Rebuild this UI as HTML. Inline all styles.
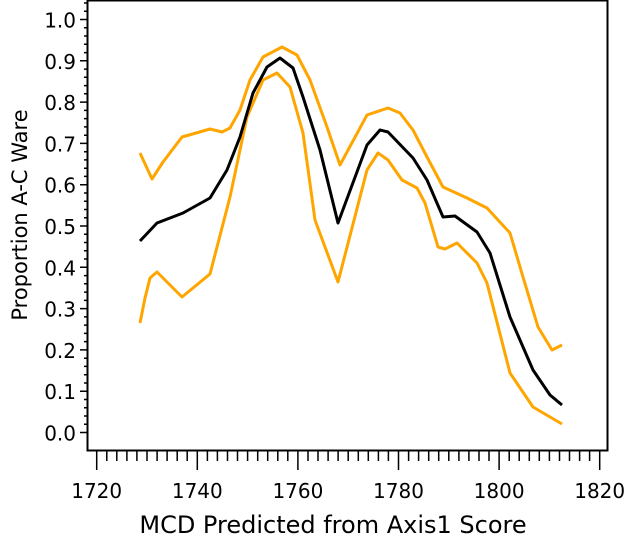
<!DOCTYPE html>
<html><head><style>
html,body{margin:0;padding:0;background:#fff;}
svg{display:block;}
text{font-family:"DejaVu Sans","Liberation Sans",sans-serif;font-size:20px;fill:#000;}
</style></head><body>
<svg width="633" height="549" xmlns="http://www.w3.org/2000/svg">
<rect x="87.5" y="0.5" width="520" height="450" fill="none" stroke="#000" stroke-width="2"/>
<g stroke="#000" stroke-width="1.5">
<path d="M80 432.5H87M80 391.2H87M80 349.9H87M80 308.6H87M80 267.3H87M80 226H87M80 184.7H87M80 143.4H87M80 102.1H87M80 60.8H87M80 19.5H87"/>
<path d="M84 424.2H87M84 416H87M84 407.7H87M84 399.5H87M84 383H87M84 374.7H87M84 366.4H87M84 358.2H87M84 341.6H87M84 333.4H87M84 325.1H87M84 316.9H87M84 300.4H87M84 292.1H87M84 283.8H87M84 275.6H87M84 259H87M84 250.8H87M84 242.5H87M84 234.3H87M84 217.7H87M84 209.5H87M84 201.2H87M84 193H87M84 176.4H87M84 168.2H87M84 159.9H87M84 151.7H87M84 135.2H87M84 126.9H87M84 118.6H87M84 110.4H87M84 93.8H87M84 85.6H87M84 77.3H87M84 69.1H87M84 52.6H87M84 44.3H87M84 36H87M84 27.8H87M84 11.2H87M84 3H87"/>
</g>
<g text-anchor="end" style="font-size:23px">
<text x="76" y="440.5">0.0</text><text x="76" y="399.2">0.1</text><text x="76" y="357.9">0.2</text><text x="76" y="316.6">0.3</text><text x="76" y="275.3">0.4</text><text x="76" y="234">0.5</text><text x="76" y="192.7">0.6</text><text x="76" y="151.4">0.7</text><text x="76" y="110.1">0.8</text><text x="76" y="68.8">0.9</text><text x="76" y="27.5">1.0</text>
</g>
<g stroke="#000" stroke-width="1.5" id="xt"></g>
<g text-anchor="middle">
<g style="font-size:22px">
<text x="96.7" y="498">1720</text><text x="197.3" y="498">1740</text><text x="297.9" y="498">1760</text><text x="398.5" y="498">1780</text><text x="499.1" y="498">1800</text><text x="599.7" y="498">1820</text>
</g>
<text x="333" y="533" style="font-size:24px">MCD Predicted from Axis1 Score</text>
<text transform="translate(27,215) rotate(-90)" style="font-size:21px">Proportion A-C Ware</text>
</g>
<g fill="none" stroke-width="3" stroke-linejoin="round">
<polyline stroke="#FFA500" points="140,153 152,179 163,162 182,137 210,129 222,132 230,128 240,110 250,80 263,57 282,47 297,55 310,80 327,127 340,165 367,115 388,108 400,113 413,130 427,157 443,187 467,198 487,208 510,233 523,277 538,327 552,350 562,345"/>
<polyline stroke="#FFA500" points="140,323 145,298 150,278 157,272 182,297 210,274 230,197 247,117 263,80 277,73 290,87 303,133 315,220 338,282 367,170 378,153 388,160 402,180 417,188 425,203 438,247 445,249 457,243 477,263 487,283 510,373 533,407 562,424"/>
<polyline stroke="#000" points="140,241 157,223 183,213 210,198 227,170 240,137 253,93 267,67 280,58 293,68 303,97 320,150 338,223 367,145 380,130 388,132 413,158 427,180 443,217 455,216 477,232 490,253 510,317 533,370 550,395 562,405"/>
</g>
</svg>
<script>
var g=document.getElementById('xt'),d='';
for(var i=0;i<=50;i++){var x=96.7+i*10.06;d+='M'+x.toFixed(1)+' 451V'+(i%10==0?470:461);}
var p=document.createElementNS('http://www.w3.org/2000/svg','path');p.setAttribute('d',d);g.appendChild(p);
</script>
</body></html>
